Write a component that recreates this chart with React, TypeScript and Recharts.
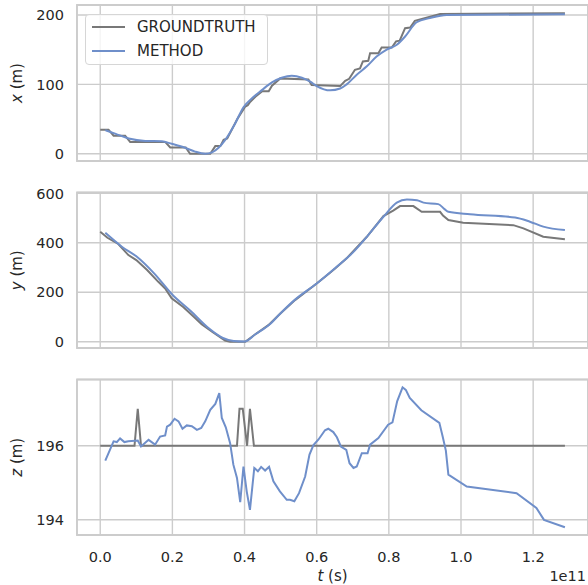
import React from 'react';
import { CartesianGrid, Legend, Line, LineChart, ReferenceArea, XAxis, YAxis } from 'recharts';

// time is in units of 1e11 s
const tTicks = [0, 0.2, 0.4, 0.6, 0.8, 1.0, 1.2];
const tDomain: [number, number] = [-0.0644, 1.352];

const gtX: [number, number][] = [
  [0, 34.6], [0.023, 34.6], [0.037, 26], [0.069, 26], [0.083, 17], [0.18, 17], [0.194, 9], [0.237, 9],
  [0.249, 0], [0.305, 0], [0.319, 11], [0.333, 11], [0.342, 20], [0.352, 22], [0.38, 50], [0.402, 68],
  [0.409, 70], [0.416, 75], [0.43, 82], [0.449, 90], [0.467, 90], [0.476, 98], [0.499, 108.6], [0.577, 107],
  [0.586, 99], [0.665, 97.5], [0.679, 105], [0.69, 108], [0.706, 121], [0.72, 123], [0.728, 133], [0.743, 134],
  [0.748, 145], [0.771, 145], [0.78, 153], [0.808, 153], [0.82, 162], [0.83, 163], [0.845, 181], [0.859, 182],
  [0.872, 191.5], [0.942, 201.5], [1.288, 202.5],
];
const methodX: [number, number][] = [
  [0.014, 34], [0.043, 28.6], [0.079, 22], [0.125, 18.5], [0.171, 18], [0.198, 14.3], [0.235, 8.7],
  [0.263, 3], [0.291, 0], [0.31, 2], [0.328, 8.6], [0.346, 19.7], [0.374, 43.7], [0.397, 67], [0.42, 79.7],
  [0.448, 91.7], [0.476, 102.8], [0.503, 109.5], [0.531, 112.4], [0.559, 109.5], [0.582, 103.8], [0.6, 97.6],
  [0.637, 91.4], [0.665, 94], [0.683, 100], [0.711, 114], [0.739, 126], [0.766, 140], [0.794, 150],
  [0.822, 157], [0.845, 169], [0.877, 189.5], [0.914, 195.5], [0.96, 200], [1.288, 201],
];

const gtY: [number, number][] = [
  [0, 444], [0.02, 420], [0.05, 395], [0.078, 350], [0.1, 330], [0.13, 290], [0.161, 242], [0.18, 215],
  [0.198, 175], [0.23, 140], [0.26, 100], [0.281, 71], [0.31, 40], [0.346, 5], [0.36, 0], [0.402, 0],
  [0.43, 30], [0.466, 67], [0.5, 115], [0.54, 168], [0.6, 235], [0.637, 279], [0.651, 296], [0.683, 337],
  [0.739, 424], [0.785, 508], [0.812, 530], [0.831, 548], [0.868, 548], [0.891, 525], [0.942, 525],
  [0.95, 510], [0.965, 492], [1.006, 481], [1.145, 471], [1.173, 458], [1.228, 424], [1.288, 414],
];
const methodY: [number, number][] = [
  [0.014, 440], [0.06, 384], [0.1, 345], [0.15, 275], [0.2, 190], [0.25, 125], [0.3, 55], [0.34, 15],
  [0.37, 3], [0.4, 1], [0.43, 30], [0.47, 70], [0.5, 115], [0.54, 170], [0.6, 235], [0.65, 296], [0.7, 360],
  [0.739, 424], [0.785, 505], [0.822, 562], [0.85, 575], [0.878, 572], [0.896, 562], [0.937, 556],
  [0.955, 535], [0.965, 525], [1.025, 515], [1.15, 502], [1.191, 485], [1.228, 465], [1.288, 451],
];

const gtZ: [number, number][] = [
  [0, 196], [0.095, 196], [0.104, 197], [0.113, 196], [0.379, 196], [0.386, 197], [0.395, 197],
  [0.407, 196], [0.415, 197], [0.426, 196], [1.288, 196],
];
const methodZ: [number, number][] = [
  [0.014, 195.6], [0.023, 195.8], [0.037, 196.12], [0.046, 196.1], [0.055, 196.2], [0.067, 196.1],
  [0.078, 196.12], [0.104, 196.14], [0.113, 195.98], [0.134, 196.16], [0.152, 196.03], [0.166, 196.25],
  [0.18, 196.28], [0.185, 196.52], [0.194, 196.57], [0.206, 196.73], [0.217, 196.66], [0.228, 196.46],
  [0.24, 196.55], [0.254, 196.53], [0.268, 196.43], [0.28, 196.48], [0.291, 196.66], [0.305, 196.97],
  [0.319, 197.13], [0.33, 197.42], [0.337, 196.75], [0.348, 196.5], [0.36, 196.07], [0.369, 195.49],
  [0.379, 195.13], [0.388, 194.48], [0.397, 195.44], [0.406, 194.77], [0.415, 194.27], [0.427, 195.4],
  [0.437, 195.31], [0.446, 195.43], [0.457, 195.33], [0.468, 195.43], [0.48, 195.04], [0.498, 194.77],
  [0.517, 194.54], [0.526, 194.54], [0.538, 194.5], [0.551, 194.72], [0.568, 195.17], [0.58, 195.76],
  [0.591, 196.02], [0.605, 196.17], [0.623, 196.42], [0.632, 196.46], [0.646, 196.37], [0.656, 196.23],
  [0.667, 195.98], [0.682, 195.89], [0.691, 195.53], [0.702, 195.4], [0.711, 195.44], [0.725, 195.8],
  [0.741, 195.8], [0.748, 196.03], [0.771, 196.21], [0.798, 196.57], [0.81, 196.63], [0.823, 197.2],
  [0.838, 197.58], [0.847, 197.51], [0.858, 197.29], [0.89, 196.96], [0.94, 196.62], [0.949, 196.26],
  [0.958, 195.87], [0.965, 195.22], [1.016, 194.9], [1.154, 194.72], [1.209, 194.32], [1.23, 194.0],
  [1.288, 193.8],
];

const toRows = (pts: [number, number][]) => pts.map(([t, v]) => ({ t, v }));

const GT_COLOR = '#787878';
const METHOD_COLOR = '#6f8fca';
const GRID = '#cccccc';
const TEXT = '#262626';
const FONT = 'DejaVu Sans, sans-serif';

const tickStyle = { fill: TEXT, fontSize: 14.5, fontFamily: FONT };
const noTick = () => <g />;

const yLabel = (name: string) => (props: any) => {
  const vb = props.viewBox || { y: 0, height: 0 };
  const cy = vb.y + vb.height / 2;
  return (
    <text x={17} y={cy} transform={`rotate(-90, 17, ${cy})`} textAnchor="middle" dominantBaseline="central"
      fill={TEXT} fontSize={15} fontFamily={FONT}>
      <tspan fontStyle="italic">{name}</tspan> (m)
    </text>
  );
};

// bottom chart svg starts at page y=372
const tLabel = () => (
  <g>
    <text x={332.5} y={209} textAnchor="middle" fill={TEXT} fontSize={15} fontFamily={FONT}>
      <tspan fontStyle="italic">t</tspan> (s)
    </text>
    <text x={586} y={209} textAnchor="end" fill={TEXT} fontSize={14.5} fontFamily={FONT}>1e11</text>
  </g>
);

const LegendBox = (props: any) => {
  const items = props.payload || [];
  return (
    <div style={{ position: 'relative', width: 183, height: 51, boxSizing: 'border-box', border: '1px solid #d6d6d6',
      borderRadius: 4, background: 'rgba(255,255,255,0.8)', fontFamily: FONT, fontSize: 15, color: TEXT }}>
      {items.map((it: any, i: number) => (
        <div key={it.value} style={{ position: 'absolute', left: 0, top: 11.5 + i * 24.5 - 10, height: 20, width: '100%' }}>
          <svg width={40} height={20} style={{ position: 'absolute', left: 5, top: 0 }}>
            <line x1={1} x2={34} y1={10} y2={10} stroke={it.color} strokeWidth={2} />
          </svg>
          <span style={{ position: 'absolute', left: 51, top: 0, lineHeight: '20px', whiteSpace: 'nowrap' }}>{it.value}</span>
        </div>
      ))}
    </div>
  );
};

type PanelProps = {
  top: number;
  height: number;
  margin: { top: number; right: number; bottom: number; left: number };
  gt: [number, number][];
  method: [number, number][];
  yDomain: [number, number];
  yTicks: number[];
  yName: string;
  smooth: boolean;
  bottomAxis?: boolean;
  legend?: boolean;
};

const Panel = ({ top, height, margin, gt, method, yDomain, yTicks, yName, smooth, bottomAxis, legend }: PanelProps) => (
  <div style={{ position: 'absolute', left: 0, top }}>
    <LineChart width={588} height={height} margin={margin}>
      <CartesianGrid stroke={GRID} strokeWidth={1.4} />
      <ReferenceArea x1={tDomain[0]} x2={tDomain[1]} y1={yDomain[0]} y2={yDomain[1]} fill="none" fillOpacity={0}
        stroke={GRID} strokeWidth={1.8} />
      <XAxis dataKey="t" type="number" domain={tDomain} ticks={tTicks} allowDataOverflow
        height={bottomAxis ? 50 : 2} tick={bottomAxis ? tickStyle : noTick} tickLine={false} axisLine={false}
        tickSize={6} tickMargin={11} tickFormatter={(v: number) => v.toFixed(1)}
        label={bottomAxis ? { content: tLabel } : undefined} />
      <YAxis dataKey="v" type="number" domain={yDomain} ticks={yTicks} allowDataOverflow width={77}
        tick={tickStyle} tickLine={false} axisLine={false} tickSize={6} tickMargin={7}
        label={{ content: yLabel(yName) }} />
      {legend && (
        <Legend layout="horizontal" verticalAlign="middle" align="center" content={LegendBox}
          wrapperStyle={{ left: 85, top: 14, width: 183, height: 51 }} />
      )}
      <Line data={toRows(gt)} dataKey="v" name="GROUNDTRUTH" type="linear" stroke={GT_COLOR} strokeWidth={2}
        dot={false} isAnimationActive={false} />
      <Line data={toRows(method)} dataKey="v" name="METHOD" type={smooth ? 'monotone' : 'linear'} stroke={METHOD_COLOR}
        strokeWidth={2} dot={false} isAnimationActive={false} />
    </LineChart>
  </div>
);

export default function App() {
  return (
    <div style={{ position: 'absolute', left: 0, top: 0, width: 588, height: 585, background: '#fff', overflow: 'hidden' }}>
      <Panel top={0} height={175} margin={{ top: 5, right: 0, bottom: 12, left: 0 }} gt={gtX} method={methodX}
        yDomain={[-10.5, 214.4]} yTicks={[0, 100, 200]} yName="x" smooth legend />
      <Panel top={185} height={175} margin={{ top: 7.5, right: 0, bottom: 10, left: 0 }} gt={gtY} method={methodY}
        yDomain={[-25.5, 603]} yTicks={[0, 200, 400, 600]} yName="y" smooth />
      <Panel top={372} height={213} margin={{ top: 7.5, right: 0, bottom: 0, left: 0 }} gt={gtZ} method={methodZ}
        yDomain={[193.59, 197.79]} yTicks={[194, 196]} yName="z" smooth={false} bottomAxis />
    </div>
  );
}
